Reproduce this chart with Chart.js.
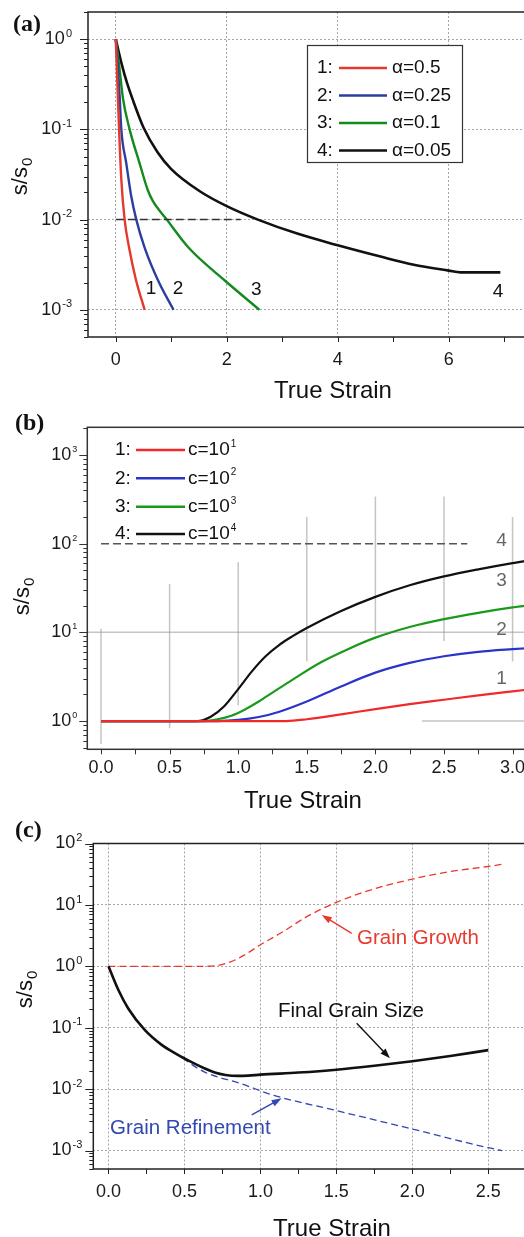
<!DOCTYPE html>
<html>
<head>
<meta charset="utf-8">
<script src="https://cdn.jsdelivr.net/npm/chart.js@4.4.0/dist/chart.umd.min.js"></script>
<style>
  html, body { margin: 0; padding: 0; background: #fff; overflow: hidden; width: 524px; height: 1237px; }
  canvas { position: absolute; left: 0; }
  #panelA { top: 0; }
  #panelB { top: 405px; }
  #panelC { top: 805px; }
</style>
</head>
<body>
<canvas id="panelA" width="532" height="410"></canvas>
<canvas id="panelB" width="540" height="410"></canvas>
<canvas id="panelC" width="549" height="432"></canvas>
<script>
const SANS = '"Liberation Sans", Arial, Helvetica, sans-serif';
const SERIF = '"Liberation Serif", "Times New Roman", serif';

// ---- (a) grain refinement for different alpha ----
const alphaTags = ['1:', '2:', '3:', '4:'];
const alphaNames = ['α=0.5', 'α=0.25', 'α=0.1', 'α=0.05'];
const a1Strain = [0, 0.02, 0.04, 0.06, 0.10, 0.16, 0.24, 0.36, 0.52];
const a1Size = [1, 0.47, 0.21, 0.10, 0.028, 0.010, 0.0049, 0.0022, 0.001];
const a2Strain = [0, 0.036, 0.072, 0.10, 0.19, 0.28, 0.37, 0.52, 0.765, 1.04];
const a2Size = [1, 0.52, 0.22, 0.10, 0.042, 0.018, 0.010, 0.0049, 0.0021, 0.001];
const a3Strain = [0, 0.06, 0.13, 0.25, 0.43, 0.58, 0.67, 0.92, 1.31, 1.97, 2.59];
const a3Size = [1, 0.52, 0.22, 0.10, 0.042, 0.021, 0.016, 0.010, 0.0049, 0.0021, 0.001];
const a4Strain = [0, 0.1, 0.2, 0.3, 0.5, 0.75, 1.0, 1.5, 2.0, 2.56, 3.27, 4.0, 4.77, 5.37, 6.0, 6.21, 6.93];
const a4Size = [1, 0.55, 0.331, 0.219, 0.105, 0.0562, 0.0363, 0.0209, 0.0141, 0.0100, 0.0070, 0.00519, 0.00389, 0.00316, 0.00272, 0.0026, 0.0026];
const aRefStrain = [0, 2.25];
const aRefSize = [0.01, 0.01];
const aCurveTags = ['1', '2', '3', '4'];
const aTagStrain = [0.635, 1.12, 2.53, 6.89];
const aTagSize = [0.0017, 0.0017, 0.00166, 0.00157];
const aTicks = [0, 1, 2, 3, 4, 5, 6, 7];
const aTickLabels = ['0', '', '2', '', '4', '', '6', ''];

// ---- (b) grain growth for different c ----
const cTags = ['1:', '2:', '3:', '4:'];
const cExps = ['1', '2', '3', '4'];
const b1Strain = [0, 1.35, 1.5, 1.75, 2.0, 2.25, 2.5, 2.75, 3.0, 3.2];
const b1Size = [1, 1, 1.047, 1.189, 1.365, 1.549, 1.738, 1.95, 2.163, 2.344];
const b2Strain = [0, 0.85, 1.0, 1.15, 1.3, 1.5, 1.75, 2.0, 2.25, 2.5, 2.75, 3.0, 3.2];
const b2Size = [1, 1, 1.028, 1.109, 1.274, 1.66, 2.455, 3.51, 4.52, 5.37, 6.03, 6.46, 6.76];
const b3Strain = [0, 0.75, 0.85, 0.95, 1.05, 1.15, 1.25, 1.4, 1.6, 1.8, 2.0, 2.25, 2.5, 2.75, 3.0, 3.2];
const b3Size = [1, 1, 1.047, 1.148, 1.349, 1.66, 2.09, 2.95, 4.57, 6.46, 8.71, 11.5, 14.1, 16.6, 19.1, 20.9];
const b4Strain = [0, 0.7, 0.8, 0.9, 1.0, 1.1, 1.2, 1.3, 1.4, 1.5, 1.75, 2.0, 2.25, 2.5, 2.75, 3.0, 3.2];
const b4Size = [1, 1, 1.12, 1.48, 2.29, 3.63, 5.37, 7.24, 9.12, 11.2, 17.4, 25.1, 33.9, 42.7, 51.3, 60.3, 67.6];
const bGuideStrain = [0, 0.5, 1.0, 1.5, 2.0, 2.5, 3.0];
const bGuideLow = [0.55, 0.83, 1.5, 4.7, 9.5, 8, 4.7];
const bGuideHigh = [11, 35, 62, 200, 340, 340, 200];
const bTenStrain = [-0.1, 3.2];
const bTenSize = [10, 10];
const bOneStrain = [2.34, 3.2];
const bOneSize = [1, 1];
const bHundredStrain = [0, 2.67];
const bHundredSize = [100, 100];
const bCurveTags = ['4', '3', '2', '1'];
const bTagStrain = [2.92, 2.92, 2.92, 2.92];
const bTagSize = [108, 37.9, 10.8, 3.03];
const bTicks = [0, 0.25, 0.5, 0.75, 1.0, 1.25, 1.5, 1.75, 2.0, 2.25, 2.5, 2.75, 3.0];
const bTickLabels = ['0.0', '', '0.5', '', '1.0', '', '1.5', '', '2.0', '', '2.5', '', '3.0'];

// ---- (c) competition of refinement and growth ----
const finalStrain = [0, 0.066, 0.131, 0.24, 0.35, 0.42, 0.5, 0.57, 0.63, 0.7, 0.77, 0.85, 0.92, 1.0, 1.25, 1.5, 1.75, 2.0, 2.25, 2.5];
const finalSize = [1, 0.407, 0.204, 0.0912, 0.0525, 0.0407, 0.0316, 0.0257, 0.0219, 0.0186, 0.0170, 0.0164, 0.0166, 0.0172, 0.0186, 0.0207, 0.0240, 0.0285, 0.0347, 0.0431];
const growthStrain = [0, 0.6, 0.7, 0.8, 0.9, 1.0, 1.14, 1.3, 1.5, 1.76, 2.0, 2.24, 2.5, 2.6];
const growthSize = [1, 1, 1.02, 1.17, 1.55, 2.24, 3.55, 6.31, 11.0, 18.6, 26.3, 34.7, 42.2, 46.2];
const refineStrain = [0, 0.066, 0.131, 0.24, 0.35, 0.43, 0.63, 0.87, 1.09, 1.5, 2.0, 2.5, 2.59];
const refineSize = [1, 0.407, 0.204, 0.0912, 0.0525, 0.0398, 0.0191, 0.0123, 0.0079, 0.00447, 0.00224, 0.00111, 0.001];
const cNotes = ['Grain Growth', 'Final Grain Size', 'Grain Refinement'];
const cNoteStrain = [1.636, 1.116, 0.01];
const cNoteSize = [2.89, 0.187, 0.00232];
const cArrowFromStrain = [1.601, 1.634, 0.943];
const cArrowFromSize = [3.45, 0.118, 0.00379];
const cArrowToStrain = [1.404, 1.853, 1.140];
const cArrowToSize = [6.85, 0.0318, 0.00708];
const cTicks = [0, 0.25, 0.5, 0.75, 1.0, 1.25, 1.5, 1.75, 2.0, 2.25, 2.5, 2.75];
const cTickLabels = ['0.0', '', '0.5', '', '1.0', '', '1.5', '', '2.0', '', '2.5', ''];

function pts(xs, ys) {
  return xs.map((x, i) => ({ x: x, y: ys[i] }));
}

function curve(label, xs, ys, color, width, dash) {
  return {
    label: label, data: pts(xs, ys), borderColor: color, borderWidth: width,
    borderDash: dash || [], pointRadius: 0, fill: false,
    cubicInterpolationMode: 'monotone', borderJoinStyle: 'round'
  };
}

function segment(label, xs, ys, color, width, dash) {
  const d = curve(label, xs, ys, color, width, dash);
  d.cubicInterpolationMode = 'default';
  d.tension = 0;
  return d;
}

function decades(min, max) {
  const out = [];
  for (let e = Math.ceil(Math.log10(min) - 1e-9); e <= Math.floor(Math.log10(max) + 1e-9); e++) out.push(Math.pow(10, e));
  return out;
}

function xScale(min, max, ticks, labels, pad, grid, fitH) {
  return {
    type: 'linear', min: min, max: max,
    afterBuildTicks: s => { s.ticks = ticks.map(v => ({ value: v })); },
    afterFit: s => { s.height = fitH; },
    ticks: {
      autoSkip: false, maxRotation: 0, padding: pad, color: '#1a1a1a',
      font: { family: SANS, size: 18 },
      callback: (v, i) => labels[i]
    },
    grid: {
      display: grid, drawTicks: false, lineWidth: 1,
      color: c => (labels[c.index] ? '#a6a6a6' : 'rgba(0,0,0,0)')
    },
    border: { display: false, dash: [2, 2] }
  };
}

function yScale(min, max, fitW, grid) {
  return {
    type: 'logarithmic', min: min, max: max,
    afterBuildTicks: s => { s.ticks = decades(min, max).map(v => ({ value: v })); },
    afterFit: s => { s.width = fitW; },
    ticks: { display: false },
    grid: { display: grid, drawTicks: false, lineWidth: 1, color: '#a6a6a6' },
    border: { display: false, dash: [2, 2] }
  };
}

// "10" with a raised exponent, right or left anchored
function drawPow(ctx, base, exp, x, y, size, ratio, align) {
  ctx.textBaseline = 'middle';
  ctx.textAlign = 'left';
  ctx.font = size + 'px ' + SANS;
  const wb = ctx.measureText(base).width;
  const es = Math.round(size * ratio);
  ctx.font = es + 'px ' + SANS;
  const we = ctx.measureText(exp).width;
  const x0 = align === 'right' ? x - wb - we - 1 : x;
  ctx.font = size + 'px ' + SANS;
  ctx.fillText(base, x0, y);
  ctx.font = es + 'px ' + SANS;
  ctx.fillText(exp, x0 + wb + 1, y - size * 0.3);
}

function drawYTitle(ctx, cx, cy, size) {
  ctx.save();
  ctx.translate(cx, cy);
  ctx.rotate(-Math.PI / 2);
  ctx.fillStyle = '#111';
  ctx.textBaseline = 'alphabetic';
  ctx.textAlign = 'left';
  ctx.font = size + 'px ' + SANS;
  const wm = ctx.measureText('s/s').width;
  const ss = Math.round(size * 0.68);
  ctx.font = ss + 'px ' + SANS;
  const ws = ctx.measureText('0').width;
  const x0 = -(wm + ws) / 2;
  const base = size * 0.26;
  ctx.font = size + 'px ' + SANS;
  ctx.fillText('s/s', x0, base);
  ctx.font = ss + 'px ' + SANS;
  ctx.fillText('0', x0 + wm + 1, base + size * 0.24);
  ctx.restore();
}

function drawArrow(ctx, x1, y1, x2, y2, color, width) {
  const ang = Math.atan2(y2 - y1, x2 - x1);
  const hl = 10, hw = 3.5;
  ctx.strokeStyle = color;
  ctx.fillStyle = color;
  ctx.lineWidth = width;
  ctx.setLineDash([]);
  ctx.beginPath();
  ctx.moveTo(x1, y1);
  ctx.lineTo(x2 - Math.cos(ang) * hl * 0.8, y2 - Math.sin(ang) * hl * 0.8);
  ctx.stroke();
  ctx.beginPath();
  ctx.moveTo(x2, y2);
  ctx.lineTo(x2 - Math.cos(ang) * hl - Math.sin(ang) * hw, y2 - Math.sin(ang) * hl + Math.cos(ang) * hw);
  ctx.lineTo(x2 - Math.cos(ang) * hl + Math.sin(ang) * hw, y2 - Math.sin(ang) * hl - Math.cos(ang) * hw);
  ctx.closePath();
  ctx.fill();
}

// frame, tick marks, log labels, titles and panel letter
function makeDecor(cfg) {
  return {
    id: 'decor',
    afterDatasetsDraw(chart) {
      const ctx = chart.ctx, a = chart.chartArea;
      const xs = chart.scales.x, ys = chart.scales.y;
      ctx.save();
      ctx.strokeStyle = cfg.axisColor;
      ctx.lineWidth = 1.5;
      ctx.setLineDash([]);
      ctx.strokeRect(a.left, a.top, a.right - a.left, a.bottom - a.top);

      ctx.lineWidth = 1;
      ctx.beginPath();
      const lo = Math.floor(Math.log10(ys.min)), hi = Math.ceil(Math.log10(ys.max));
      for (let e = lo; e <= hi; e++) {
        for (let m = 1; m <= 9; m++) {
          const v = m * Math.pow(10, e);
          if (v < ys.min || v > ys.max) continue;
          const py = Math.round(ys.getPixelForValue(v)) + 0.5;
          const len = m === 1 ? 8 : 4;
          ctx.moveTo(a.left - len, py);
          ctx.lineTo(a.left, py);
        }
      }
      xs.ticks.forEach(t => {
        const px = Math.round(xs.getPixelForValue(t.value)) + 0.5;
        ctx.moveTo(px, a.bottom);
        ctx.lineTo(px, a.bottom + 5);
      });
      ctx.stroke();

      ctx.fillStyle = '#1a1a1a';
      ys.ticks.forEach(t => {
        const e = Math.round(Math.log10(t.value));
        drawPow(ctx, '10', String(e), a.left - cfg.yLabelGap, ys.getPixelForValue(t.value), 18, cfg.expRatio, 'right');
      });

      ctx.fillStyle = '#111';
      ctx.font = '24px ' + SANS;
      ctx.textAlign = 'center';
      ctx.textBaseline = 'alphabetic';
      ctx.fillText('True Strain', cfg.xTitle[0], cfg.xTitle[1]);
      drawYTitle(ctx, cfg.yTitle[0], cfg.yTitle[1], 22);

      ctx.font = 'bold 24px ' + SERIF;
      ctx.textAlign = 'left';
      ctx.fillText(cfg.letter, cfg.letterPos[0], cfg.letterPos[1]);
      ctx.restore();
    }
  };
}

function baseOptions(x, y) {
  return {
    responsive: false,
    animation: false,
    events: [],
    layout: { padding: 0 },
    plugins: { legend: { display: false }, tooltip: { enabled: false } },
    scales: { x: x, y: y }
  };
}

// ---------- panel (a) ----------
const aColors = ['#e23a2e', '#2c3f9e', '#128a1e', '#111111'];
const aOpts = baseOptions(xScale(-0.5, 7.5, aTicks, aTickLabels, 12, true, 73), yScale(5e-4, 2, 88, true));
aOpts.layout.padding = { top: 12, left: 0, right: 0, bottom: 0 };
new Chart(document.getElementById('panelA'), {
  type: 'line',
  data: {
    datasets: [
      segment('ref', aRefStrain, aRefSize, '#333', 1.5, [8, 4]),
      curve(alphaNames[0], a1Strain, a1Size, aColors[0], 2.4),
      curve(alphaNames[1], a2Strain, a2Size, aColors[1], 2.4),
      curve(alphaNames[2], a3Strain, a3Size, aColors[2], 2.4),
      curve(alphaNames[3], a4Strain, a4Size, aColors[3], 2.6)
    ]
  },
  options: aOpts,
  plugins: [
    makeDecor({ axisColor: '#222', yLabelGap: 16, expRatio: 0.6, xTitle: [333, 398], yTitle: [21, 177], letter: '(a)', letterPos: [13, 31] }),
    {
      id: 'alphaLegend',
      afterDatasetsDraw(chart) {
        const ctx = chart.ctx, xs = chart.scales.x, ys = chart.scales.y;
        ctx.save();
        ctx.fillStyle = '#111';
        ctx.font = '19px ' + SANS;
        ctx.textAlign = 'center';
        ctx.textBaseline = 'middle';
        aCurveTags.forEach((t, i) => ctx.fillText(t, xs.getPixelForValue(aTagStrain[i]), ys.getPixelForValue(aTagSize[i])));

        ctx.fillStyle = '#fff';
        ctx.fillRect(307, 45, 155, 117);
        ctx.strokeStyle = '#333';
        ctx.lineWidth = 1.2;
        ctx.strokeRect(307.5, 45.5, 155, 117);
        const rows = [68, 95.5, 123, 150.5];
        ctx.textAlign = 'left';
        alphaNames.forEach((n, i) => {
          ctx.fillStyle = '#111';
          ctx.fillText(alphaTags[i], 317, rows[i]);
          ctx.strokeStyle = aColors[i];
          ctx.lineWidth = 2.4;
          ctx.beginPath();
          ctx.moveTo(339, rows[i]);
          ctx.lineTo(387, rows[i]);
          ctx.stroke();
          ctx.fillText(n, 392, rows[i]);
        });
        ctx.restore();
      }
    }
  ]
});

// ---------- panel (b) ----------
const bColors = ['#f02a2a', '#2a35c8', '#1a9a1a', '#111111'];
const guideColor = 'rgba(150,150,150,0.55)';
const bSets = [
  curve('c=10^1', b1Strain, b1Size, bColors[0], 2.2),
  curve('c=10^2', b2Strain, b2Size, bColors[1], 2.2),
  curve('c=10^3', b3Strain, b3Size, bColors[2], 2.2),
  curve('c=10^4', b4Strain, b4Size, bColors[3], 2.2),
  segment('guide', bTenStrain, bTenSize, guideColor, 1.5),
  segment('guide', bOneStrain, bOneSize, guideColor, 1.5),
  segment('guide', bHundredStrain, bHundredSize, '#555', 1.5, [8, 4])
];
bGuideStrain.forEach((s, i) => bSets.push(segment('guide', [s, s], [bGuideLow[i], bGuideHigh[i]], guideColor, 1.5)));
const bOpts = baseOptions(xScale(-0.1, 3.2, bTicks, bTickLabels, 8, false, 65.7), yScale(0.48, 2050, 87.3, false));
bOpts.layout.padding = { top: 22.3, left: 0, right: 0, bottom: 0 };
new Chart(document.getElementById('panelB'), {
  type: 'line',
  data: { datasets: bSets },
  options: bOpts,
  plugins: [
    makeDecor({ axisColor: '#333', yLabelGap: 10, expRatio: 0.5, xTitle: [303, 403], yTitle: [23, 192], letter: '(b)', letterPos: [15, 25] }),
    {
      id: 'cLegend',
      afterDatasetsDraw(chart) {
        const ctx = chart.ctx, xs = chart.scales.x, ys = chart.scales.y;
        ctx.save();
        ctx.font = '19px ' + SANS;
        ctx.textAlign = 'center';
        ctx.textBaseline = 'middle';
        ctx.fillStyle = '#666';
        bCurveTags.forEach((t, i) => ctx.fillText(t, xs.getPixelForValue(bTagStrain[i]), ys.getPixelForValue(bTagSize[i])));
        const rows = [45, 73.3, 101.7, 129];
        cTags.forEach((t, i) => {
          ctx.fillStyle = '#111';
          ctx.font = '19px ' + SANS;
          ctx.textAlign = 'left';
          ctx.fillText(t, 115, rows[i]);
          ctx.strokeStyle = bColors[i];
          ctx.lineWidth = 2.4;
          ctx.beginPath();
          ctx.moveTo(136, rows[i]);
          ctx.lineTo(185, rows[i]);
          ctx.stroke();
          ctx.font = '19px ' + SANS;
          const wc = ctx.measureText('c=').width;
          ctx.fillText('c=', 188, rows[i]);
          drawPow(ctx, '10', cExps[i], 188 + wc, rows[i], 19, 0.5, 'left');
        });
        ctx.restore();
      }
    }
  ]
});

// ---------- panel (c) ----------
const cColors = ['#111111', '#e8392f', '#3048b0'];
const cOpts = baseOptions(xScale(-0.1, 2.9, cTicks, cTickLabels, 12.7, true, 68), yScale(5e-4, 100, 93.3, true));
cOpts.layout.padding = { top: 38.5, left: 0, right: 0, bottom: 0 };
new Chart(document.getElementById('panelC'), {
  type: 'line',
  data: {
    datasets: [
      curve('Final Grain Size', finalStrain, finalSize, cColors[0], 2.6),
      curve('Grain Growth', growthStrain, growthSize, cColors[1], 1.3, [7, 4]),
      curve('Grain Refinement', refineStrain, refineSize, cColors[2], 1.3, [7, 4])
    ]
  },
  options: cOpts,
  plugins: [
    makeDecor({ axisColor: '#222', yLabelGap: 11, expRatio: 0.6, xTitle: [332, 431], yTitle: [26, 185], letter: '(c)', letterPos: [15, 32] }),
    {
      id: 'notes',
      afterDatasetsDraw(chart) {
        const ctx = chart.ctx, xs = chart.scales.x, ys = chart.scales.y;
        ctx.save();
        const noteColors = [cColors[1], cColors[0], cColors[2]];
        cNotes.forEach((n, i) => {
          drawArrow(ctx,
            xs.getPixelForValue(cArrowFromStrain[i]), ys.getPixelForValue(cArrowFromSize[i]),
            xs.getPixelForValue(cArrowToStrain[i]), ys.getPixelForValue(cArrowToSize[i]),
            noteColors[i], 1.4);
          ctx.fillStyle = noteColors[i];
          ctx.font = '20.5px ' + SANS;
          ctx.textAlign = 'left';
          ctx.textBaseline = 'middle';
          ctx.fillText(n, xs.getPixelForValue(cNoteStrain[i]), ys.getPixelForValue(cNoteSize[i]));
        });
        ctx.restore();
      }
    }
  ]
});
</script>
</body>
</html>
